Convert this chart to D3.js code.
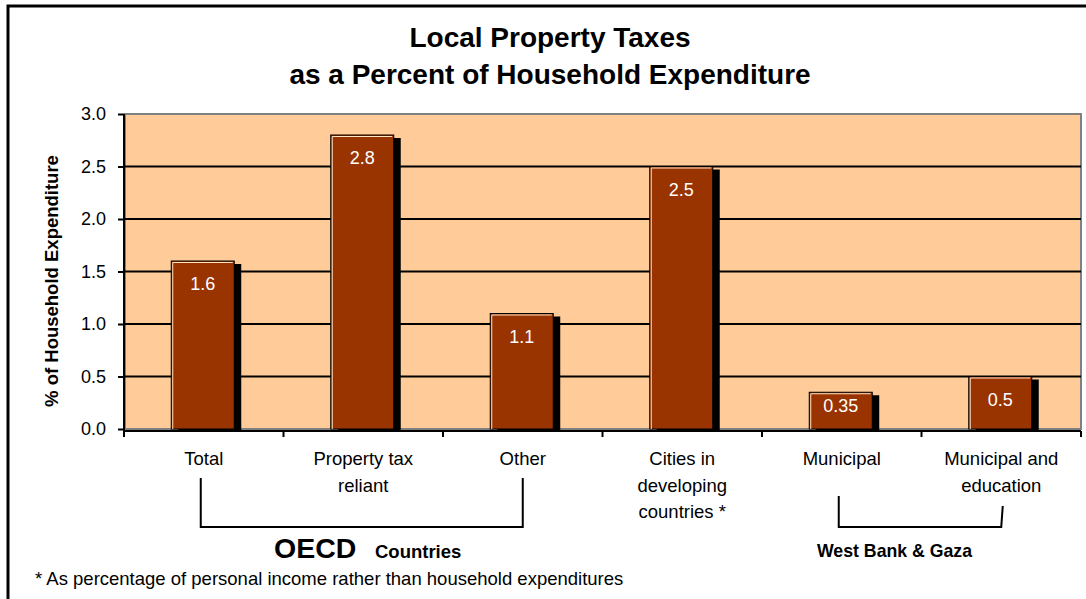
<!DOCTYPE html>
<html>
<head>
<meta charset="utf-8">
<script src="https://cdn.jsdelivr.net/npm/d3@7"></script>
<style>
  body { margin: 0; background: #fff; }
  svg { display: block; font-family: Arial, 'Liberation Sans', sans-serif; }
</style>
</head>
<body>
<div id="chart"></div>
<script>
// data
var categories = ['Total', 'Property tax reliant', 'Other', 'Cities in developing countries *', 'Municipal', 'Municipal and education']
var categoryLines = [['Total'], ['Property tax', 'reliant'], ['Other'], ['Cities in', 'developing', 'countries *'], ['Municipal'], ['Municipal and', 'education']]
var values = [1.6, 2.8, 1.1, 2.5, 0.35, 0.5]
var valueLabels = ['1.6', '2.8', '1.1', '2.5', '0.35', '0.5']
var yTicks = [0, 0.5, 1.0, 1.5, 2.0, 2.5, 3.0]
var groupNames = ['OECD', 'West Bank & Gaza']
var groupSubs = ['Countries', '']
var groupFrom = ['Total', 'Municipal']
var groupTo = ['Other', 'Municipal and education']

var W = 1086, H = 599
var margin = {top: 114, right: 5, bottom: 170, left: 124}
var width = W - margin.left - margin.right,
    height = H - margin.top - margin.bottom

var svg = d3.select('#chart').append('svg')
    .attr('width', W)
    .attr('height', H)

// outer frame (right and bottom edges fall outside the picture)
svg.append('rect')
    .attr('x', 8).attr('y', 6)
    .attr('width', W + 20).attr('height', H + 20)
    .attr('fill', 'none')
    .attr('stroke', '#000')
    .attr('stroke-width', 3)

// title
var title = svg.append('text')
    .attr('text-anchor', 'middle')
    .attr('font-weight', 'bold')
    .attr('font-size', '28px')
title.append('tspan').attr('x', 550).attr('y', 47).text('Local Property Taxes')
title.append('tspan').attr('x', 550).attr('y', 84).text('as a Percent of Household Expenditure')

var g = svg.append('g')
    .attr('transform', 'translate(' + margin.left + ',' + margin.top + ')')

var x = d3.scaleBand()
    .domain(categories)
    .range([0, width])

var y = d3.scaleLinear()
    .domain([0, 3])
    .range([height, 0])

// plot background
g.append('rect')
    .attr('x', 1).attr('y', 0)
    .attr('width', width - 1).attr('height', height)
    .attr('fill', '#FFCC99')
    .attr('stroke', '#808080')
    .attr('stroke-width', 2)

// gridlines
g.selectAll('.grid')
    .data(yTicks.filter(function(d){ return d > 0 && d < 3 }))
  .enter().append('line')
    .attr('x1', 0).attr('x2', width)
    .attr('y1', function(d){ return y(d) })
    .attr('y2', function(d){ return y(d) })
    .attr('stroke', '#000')
    .attr('stroke-width', 2)

// bars
var barW = x.bandwidth() * 0.395
var shadowDx = 7, shadowDy = 3
var bars = g.selectAll('.bar')
    .data(values)
  .enter().append('g')
    .attr('class', 'bar')

bars.append('rect')
    .attr('x', function(d, i){ return x(categories[i]) + (x.bandwidth() - barW) / 2 - 1 + shadowDx })
    .attr('y', function(d){ return y(d) + shadowDy })
    .attr('width', barW)
    .attr('height', function(d){ return height - y(d) })
    .attr('fill', '#000')

bars.append('rect')
    .attr('x', function(d, i){ return x(categories[i]) + (x.bandwidth() - barW) / 2 - 1 })
    .attr('y', function(d){ return y(d) })
    .attr('width', barW)
    .attr('height', function(d){ return height - y(d) })
    .attr('fill', '#993300')
    .attr('stroke', '#000')
    .attr('stroke-width', 1)

// light bevel on left and top edge
bars.append('path')
    .attr('d', function(d, i){
      var bx = x(categories[i]) + (x.bandwidth() - barW) / 2 - 1
      return 'M' + (bx + 1.5) + ',' + height + 'V' + (y(d) + 1.5) + 'H' + (bx + barW - 1.5)
    })
    .attr('fill', 'none')
    .attr('stroke', '#FFE4C4')
    .attr('stroke-width', 1)

bars.append('text')
    .attr('x', function(d, i){ return x(categories[i]) + x.bandwidth() / 2 - 1 })
    .attr('y', function(d){ return Math.min(y(d) + 29, height - 17) })
    .attr('text-anchor', 'middle')
    .attr('font-size', '18px')
    .attr('fill', '#fff')
    .text(function(d, i){ return valueLabels[i] })

// y axis
var yAxis = d3.axisLeft(y)
    .tickValues(yTicks)
    .tickFormat(d3.format('.1f'))
    .tickSize(6)
    .tickPadding(12)

var yg = g.append('g').call(yAxis)
yg.select('.domain').attr('stroke', '#000').attr('stroke-width', 2)
    .attr('d', 'M0,0V' + (height + 6))
yg.selectAll('.tick line').attr('stroke', '#000').attr('stroke-width', 2)
yg.selectAll('.tick text')
    .attr('font-size', '18px')
    .attr('font-family', 'Arial, Liberation Sans, sans-serif')
    .attr('fill', '#000')

// x axis line with ticks at band boundaries
g.append('line')
    .attr('x1', 0).attr('x2', width)
    .attr('y1', height + 2).attr('y2', height + 2)
    .attr('stroke', '#000')
    .attr('stroke-width', 2)

g.selectAll('.xtick')
    .data(categories.concat(['end']))
  .enter().append('line')
    .attr('x1', function(d, i){ return i * x.step() })
    .attr('x2', function(d, i){ return i * x.step() })
    .attr('y1', height + 2).attr('y2', height + 8)
    .attr('stroke', '#000')
    .attr('stroke-width', 2)

// category labels
var labels = g.selectAll('.cat')
    .data(categoryLines)
  .enter().append('text')
    .attr('text-anchor', 'middle')
    .attr('font-size', '18.5px')
    .attr('fill', '#000')

labels.selectAll('tspan')
    .data(function(d, i){ return d.map(function(t){ return {t: t, i: i} }) })
  .enter().append('tspan')
    .attr('x', function(d){ return x(categories[d.i]) + x.bandwidth() / 2 })
    .attr('y', function(d, j){ return height + 36 + j * 26.5 })
    .text(function(d){ return d.t })

// y axis title
svg.append('text')
    .attr('transform', 'translate(58,281) rotate(-90)')
    .attr('text-anchor', 'middle')
    .attr('font-size', '18.5px')
    .attr('font-weight', 'bold')
    .text('% of Household Expenditure')

// group brackets
var bracketTop = [[478, 478], [496, 506]]
groupNames.forEach(function(name, k){
  var x1 = x(groupFrom[k]) + x.bandwidth() / 2 - 3
  var x2 = x(groupTo[k]) + x.bandwidth() / 2
  var yb = height + 98
  g.append('path')
    .attr('d', 'M' + x1 + ',' + (bracketTop[k][0] - margin.top) + 'V' + yb + 'H' + x2 +
      'L' + (x2 + (k == 1 ? 1.5 : 0)) + ',' + (bracketTop[k][1] - margin.top))
    .attr('fill', 'none')
    .attr('stroke', '#000')
    .attr('stroke-width', 2)
})

// group titles
var oecd = svg.append('text')
    .attr('y', 558)
    .attr('font-weight', 'bold')
oecd.append('tspan').attr('x', 274).attr('font-size', '28.5px').text(groupNames[0])
oecd.append('tspan').attr('x', 375).attr('font-size', '18.5px').text(groupSubs[0])

svg.append('text')
    .attr('x', 817).attr('y', 557)
    .attr('font-weight', 'bold')
    .attr('font-size', '17.7px')
    .text(groupNames[1])

// footnote
svg.append('text')
    .attr('x', 35).attr('y', 585)
    .attr('font-size', '18.5px')
    .text('* As percentage of personal income rather than household expenditures')
</script>
</body>
</html>
